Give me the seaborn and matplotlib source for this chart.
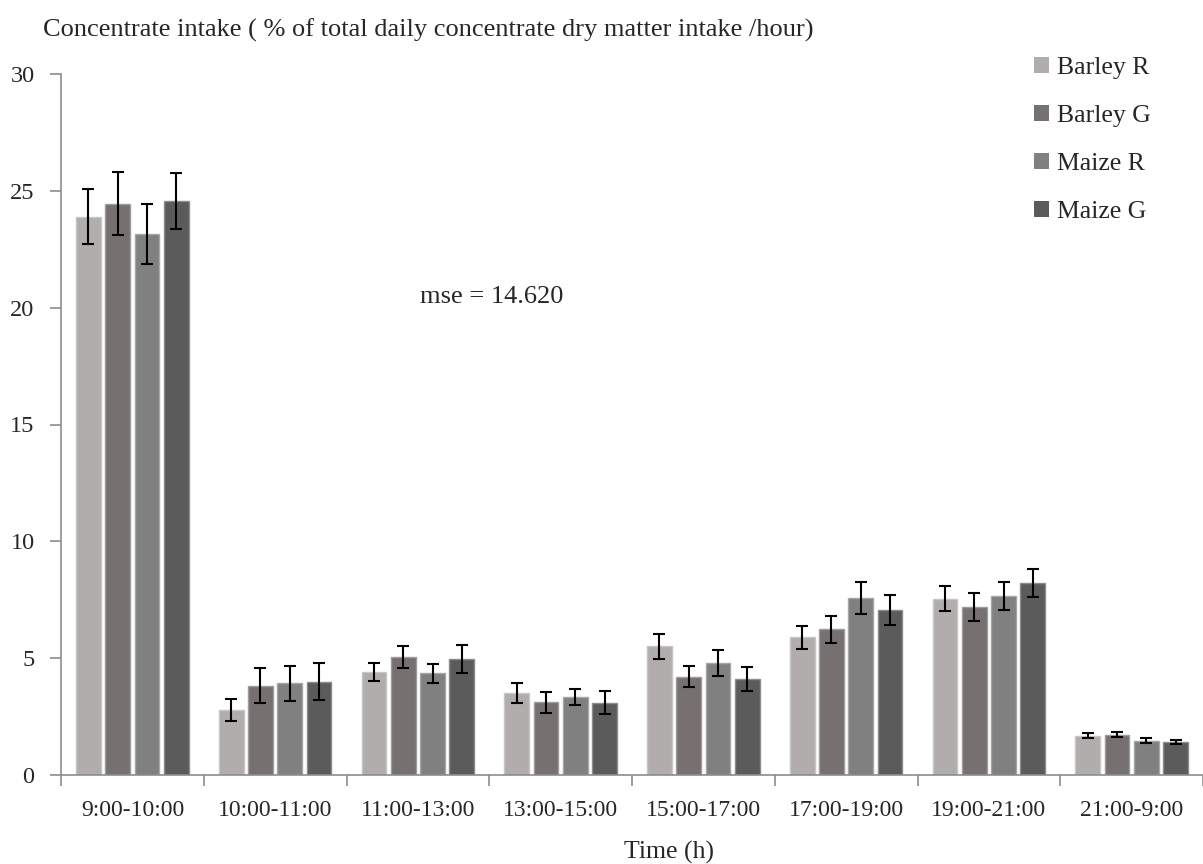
import numpy as np
import pandas as pd
import matplotlib
matplotlib.use("Agg")
import matplotlib.pyplot as plt
import matplotlib.colors as mcolors
from matplotlib.patches import Patch
import seaborn as sns

# Time periods of the day
periods = ["9:00-10:00", "10:00-11:00", "11:00-13:00", "13:00-15:00",
           "15:00-17:00", "17:00-19:00", "19:00-21:00", "21:00-9:00"]
diets = ["Barley R", "Barley G", "Maize R", "Maize G"]

# Mean concentrate intake (% of daily concentrate DM per hour) and SE
barley_r = [23.9, 2.78, 4.40, 3.50, 5.50, 5.90, 7.55, 1.68]
barley_g = [24.45, 3.83, 5.05, 3.12, 4.20, 6.23, 7.19, 1.73]
maize_r = [23.15, 3.92, 4.35, 3.33, 4.80, 7.58, 7.65, 1.47]
maize_g = [24.55, 4.00, 4.95, 3.10, 4.10, 7.05, 8.20, 1.41]

se_barley_r = [1.17, 0.48, 0.38, 0.43, 0.54, 0.49, 0.53, 0.10]
se_barley_g = [1.34, 0.74, 0.47, 0.45, 0.45, 0.58, 0.58, 0.12]
se_maize_r = [1.30, 0.74, 0.40, 0.35, 0.56, 0.69, 0.60, 0.11]
se_maize_g = [1.20, 0.80, 0.60, 0.50, 0.51, 0.64, 0.60, 0.10]

mse_label = "mse = 14.620"

palette = ["#b0adac", "#767170", "#808080", "#5b5b5b"]

means = [barley_r, barley_g, maize_r, maize_g]
errors = [se_barley_r, se_barley_g, se_maize_r, se_maize_g]

df = pd.DataFrame({
    "period": np.tile(periods, len(diets)),
    "diet": np.repeat(diets, len(periods)),
    "intake": np.concatenate(means),
})

sns.set_style("white")
plt.rcParams["font.family"] = ["Liberation Serif", "DejaVu Serif"]

fig = plt.figure(figsize=(12.03, 8.64), dpi=100)
ax = fig.add_axes([61 / 1203, 1 - 775 / 864, (1203 - 61) / 1203, (775 - 74) / 864])

sns.barplot(data=df, x="period", y="intake", hue="diet", order=periods,
            hue_order=diets, palette=palette, width=0.82, gap=0.15,
            errorbar=None, saturation=1, legend=False, ax=ax)

# Light outlines and standard error bars on every bar
for container, err, col in zip(ax.containers, errors, palette):
    rgb = np.array(mcolors.to_rgb(col))
    edge = rgb + (1 - rgb) * 0.3
    xs, ys = [], []
    for patch in container.patches:
        patch.set_edgecolor(edge)
        patch.set_linewidth(1.0)
        xs.append(patch.get_x() + patch.get_width() / 2)
        ys.append(patch.get_height())
    ax.errorbar(xs, ys, yerr=err, fmt="none", ecolor="black",
                elinewidth=1.5, capsize=4.3, capthick=1.5, zorder=5)

ax.set_xlim(-0.5, len(periods) - 0.5)
ax.set_ylim(0, 30)
ax.set_yticks(range(0, 31, 5))

spine_col = "#8c8c8c"
for side in ("top", "right"):
    ax.spines[side].set_visible(False)
for side in ("left", "bottom"):
    ax.spines[side].set_color(spine_col)
    ax.spines[side].set_linewidth(1.2)

ax.tick_params(axis="y", which="major", direction="out", length=8, width=1.2,
               color=spine_col, pad=11, labelsize=17.5, left=True)
ax.tick_params(axis="x", which="major", length=0, pad=18, labelsize=17)
ax.set_xticks(np.arange(-0.5, len(periods) + 0.5, 1.0), minor=True)
ax.tick_params(axis="x", which="minor", direction="out", length=8, width=1.2,
               color=spine_col, bottom=True)

ax.set_xlabel("Time (h)", fontsize=18.5)
ax.xaxis.set_label_coords((669 - 61) / (1203 - 61), -0.094)
ax.set_ylabel("")

fig.text(43 / 1203, 1 - 30 / 864,
         "Concentrate intake ( % of total daily concentrate dry matter intake /hour)",
         fontsize=19, ha="left", va="center")

ax.text(2.52, 20.45, mse_label, fontsize=19, ha="center", va="center")

handles = [Patch(facecolor=c, edgecolor="none") for c in palette]
fig.legend(handles, diets, loc="upper left",
           bbox_to_anchor=(1034 / 1203, 1 - 57 / 864),
           bbox_transform=fig.transFigure, frameon=False, fontsize=18.5,
           handlelength=0.6, handleheight=0.6, handletextpad=0.3,
           labelspacing=1.0, borderpad=0, borderaxespad=0)

fig.savefig("out.png", dpi=100)
